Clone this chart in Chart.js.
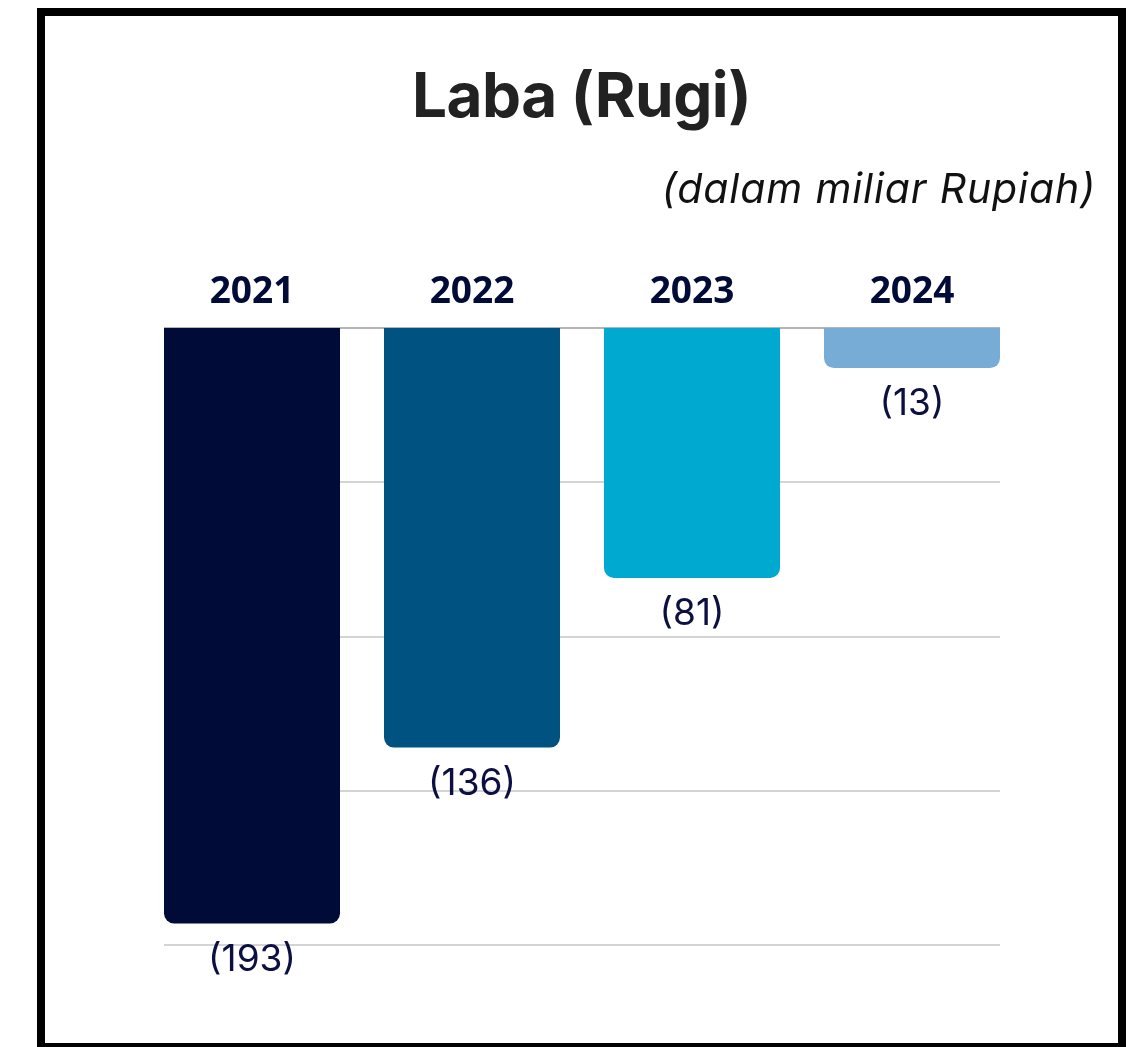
<!DOCTYPE html>
<html>
<head>
<meta charset="utf-8">
<script src="https://cdn.jsdelivr.net/npm/chart.js@4"></script>
<style>
  html, body { margin: 0; padding: 0; background: #fff; }
  body { width: 1139px; height: 1047px; position: relative; overflow: hidden; }
  #frame {
    position: absolute; left: 37px; top: 8px; width: 1089px; height: 1043px;
    box-sizing: border-box; border: 8px solid #000; background: #fff;
  }
  #chart-wrap { position: absolute; left: 0; top: 0; width: 1073px; height: 1027px; }
  .title {
    position: absolute; left: 0; width: 1073px; top: 48px; text-align: center;
    font-family: Inter, sans-serif; font-weight: 700; font-size: 62px; line-height: 1;
    letter-spacing: -0.5px; color: #222;
  }
  .subtitle {
    position: absolute; right: 22px; top: 152px;
    font-family: Inter, sans-serif; font-style: italic; font-size: 41px; line-height: 1;
    letter-spacing: 0.9px; color: #111;
  }
</style>
</head>
<body>
<div id="frame">
  <div id="chart-wrap"><canvas id="myChart"></canvas></div>
  <div class="title">Laba (Rugi)</div>
  <div class="subtitle">(dalam miliar Rupiah)</div>
</div>
<script>
const years = ["2021", "2022", "2023", "2024"]
const profitLoss = [-193, -136, -81, -13]
const barColors = ["#000b38", "#005281", "#00a9cf", "#76acd5"]
const gridValues = [0, -50, -100, -150, -200]

// grid lines only span from the first bar to the last one
const gridPlugin = {
  id: "gridPlugin",
  beforeDatasetsDraw(chart) {
    const ctx = chart.ctx
    const bars = chart.getDatasetMeta(0).data
    const first = bars[0]
    const last = bars[bars.length - 1]
    const left = first.x - first.width / 2
    const right = last.x + last.width / 2
    const yScale = chart.scales.y
    ctx.save()
    gridValues.forEach((v) => {
      const y = Math.round(yScale.getPixelForValue(v))
      ctx.beginPath()
      ctx.strokeStyle = v === 0 ? "#9c9c9c" : "#d4d4d4"
      ctx.lineWidth = v === 0 ? 1.5 : 2
      ctx.moveTo(left, y)
      ctx.lineTo(right, y)
      ctx.stroke()
    })
    ctx.restore()
  },
}

const valueLabels = {
  id: "valueLabels",
  afterDatasetsDraw(chart) {
    const ctx = chart.ctx
    const meta = chart.getDatasetMeta(0)
    ctx.save()
    ctx.font = "400 37px Inter, sans-serif"
    ctx.fillStyle = "#0c1040"
    ctx.textAlign = "center"
    ctx.textBaseline = "middle"
    meta.data.forEach((bar, i) => {
      const v = profitLoss[i]
      const txt = v < 0 ? `(${Math.abs(v)})` : `${v}`
      ctx.fillText(txt, bar.x, bar.y + 36)
    })
    ctx.restore()
  },
}

const data = {
  labels: years,
  datasets: [
    {
      label: "Laba (Rugi)",
      data: profitLoss,
      backgroundColor: barColors,
      borderRadius: 10,
      borderSkipped: "start",
      barPercentage: 0.8,
      categoryPercentage: 1,
    },
  ],
}

const config = {
  type: "bar",
  data: data,
  options: {
    responsive: true,
    maintainAspectRatio: false,
    animation: false,
    layout: { padding: { left: 97, right: 96, top: 232, bottom: 98 } },
    plugins: {
      legend: { display: false },
      tooltip: { enabled: false },
    },
    scales: {
      x: {
        position: "top",
        grid: { display: false, drawTicks: false },
        border: { display: false },
        ticks: {
          padding: 13,
          color: "#000b38",
          font: { family: "'Open Sans', sans-serif", size: 37, weight: "bold" },
        },
        afterFit(scale) {
          scale.height = 80
        },
      },
      y: {
        display: false,
        min: -200,
        max: 0,
      },
    },
  },
  plugins: [gridPlugin, valueLabels],
}

const myChart = new Chart(document.getElementById("myChart"), config)
</script>
</body>
</html>
